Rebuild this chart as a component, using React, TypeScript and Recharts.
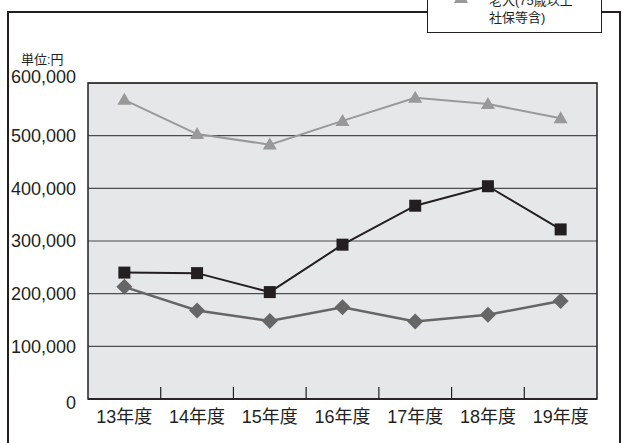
import React from 'react';
import {
  LineChart,
  Line,
  XAxis,
  YAxis,
  CartesianGrid,
  ReferenceArea,
} from 'recharts';

const years = ['13年度', '14年度', '15年度', '16年度', '17年度', '18年度', '19年度'];
const elderly = [568000, 503000, 483000, 528000, 572000, 560000, 533000];
const total = [240000, 239000, 203000, 293000, 367000, 404000, 322000];
const general = [213000, 168000, 148000, 174000, 147000, 160000, 186000];
const yTicks = [0, 100000, 200000, 300000, 400000, 500000, 600000];

const chartData = years.map((year, i) => ({
  year,
  elderly: elderly[i],
  total: total[i],
  general: general[i],
}));

const FONT = "'Liberation Sans', 'Noto Sans CJK JP', sans-serif";

const SquareDot = (props: any) => {
  const { cx, cy } = props;
  return <rect x={cx - 6} y={cy - 6} width={12} height={12} fill="#231f20" />;
};

const DiamondDot = (props: any) => {
  const { cx, cy } = props;
  const r = 8;
  return (
    <polygon
      points={`${cx},${cy - r} ${cx + r},${cy} ${cx},${cy + r} ${cx - r},${cy}`}
      fill="#666666"
    />
  );
};

const TriangleDot = (props: any) => {
  const { cx, cy } = props;
  return (
    <polygon
      points={`${cx},${cy - 7} ${cx + 7},${cy + 5} ${cx - 7},${cy + 5}`}
      fill="#999999"
    />
  );
};

const YTick = (props: any) => {
  const { x, y, payload } = props;
  // top and bottom labels sit slightly off their lines, as in the print
  let shift = 0;
  if (payload.value === 600000) shift = -6;
  if (payload.value === 0) shift = 4;
  return (
    <text
      x={x}
      y={y + shift}
      dy="0.35em"
      textAnchor="end"
      fill="#231f20"
      style={{ fontSize: 18, fontFamily: FONT }}
    >
      {payload.value.toLocaleString('en-US')}
    </text>
  );
};

// category label plus a short inward tick on the band's right edge
const XTick = (props: any) => {
  const { x, y, payload, index } = props;
  const edge = x + (payload.offset || 0);
  return (
    <g>
      <text
        x={x}
        y={y + 11}
        dy="0.71em"
        textAnchor="middle"
        fill="#231f20"
        style={{ fontSize: 18, fontFamily: FONT }}
      >
        {payload.value}
      </text>
      {index < years.length - 1 && (
        <line x1={edge} x2={edge} y1={y} y2={y - 12} stroke="#231f20" strokeWidth={1.2} />
      )}
    </g>
  );
};

export default function App() {
  return (
    <div
      style={{
        position: 'absolute',
        left: 0,
        top: 0,
        width: 622,
        height: 443,
        overflow: 'hidden',
        background: '#ffffff',
        fontFamily: FONT,
      }}
    >
      {/* outer frame */}
      <div style={{ position: 'absolute', left: 7, top: 11, width: 1.5, height: 440, background: '#231f20' }} />
      <div style={{ position: 'absolute', left: 619, top: 11, width: 1.5, height: 440, background: '#231f20' }} />
      <div style={{ position: 'absolute', left: 7, top: 11, width: 421, height: 1.5, background: '#231f20' }} />
      <div style={{ position: 'absolute', left: 602, top: 11, width: 18, height: 1.5, background: '#231f20' }} />

      {/* legend box, cut off at the top */}
      <div
        style={{
          position: 'absolute',
          left: 427,
          top: -2,
          width: 173,
          height: 33,
          border: '1.5px solid #231f20',
          background: '#ffffff',
        }}
      >
        <svg style={{ position: 'absolute', left: 18, top: 0 }} width={30} height={10}>
          <line x1={0} y1={-2} x2={30} y2={-2} stroke="#999999" strokeWidth={2} />
          <polygon points="15,-9 22,4 8,4" fill="#999999" />
        </svg>
        <div
          style={{
            position: 'absolute',
            left: 61,
            top: -7,
            fontSize: 13,
            lineHeight: '17px',
            color: '#231f20',
            whiteSpace: 'nowrap',
          }}
        >
          老人(75歳以上
          <br />
          社保等含)
        </div>
      </div>

      <div
        style={{
          position: 'absolute',
          left: 21,
          top: 49,
          fontSize: 13,
          color: '#231f20',
          whiteSpace: 'nowrap',
        }}
      >
        単位:円
      </div>

      <div style={{ position: 'absolute', left: 0, top: 0 }}>
        <LineChart
          width={622}
          height={443}
          data={chartData}
          margin={{ top: 83, right: 25, left: 0, bottom: 0 }}
        >
          <CartesianGrid
            vertical={false}
            horizontalValues={yTicks}
            stroke="#4d4d4d"
            strokeWidth={1.2}
            fill="#e6e7e9"
            fillOpacity={1}
          />
          <ReferenceArea
            y1={0}
            y2={600000}
            fill="none"
            stroke="#231f20"
            strokeWidth={1.5}
            ifOverflow="extendDomain"
          />
          <XAxis
            dataKey="year"
            scale="band"
            height={44}
            tickLine={false}
            tickSize={0}
            tickMargin={0}
            axisLine={{ stroke: '#231f20', strokeWidth: 1.5 }}
            tick={<XTick />}
            interval={0}
          />
          <YAxis
            width={88}
            domain={[0, 600000]}
            ticks={yTicks}
            tickLine={false}
            axisLine={false}
            tickMargin={6}
            tick={<YTick />}
            interval={0}
          />
          <Line
            dataKey="elderly"
            stroke="#999999"
            strokeWidth={2}
            dot={<TriangleDot />}
            isAnimationActive={false}
          />
          <Line
            dataKey="general"
            stroke="#666666"
            strokeWidth={2.5}
            dot={<DiamondDot />}
            isAnimationActive={false}
          />
          <Line
            dataKey="total"
            stroke="#231f20"
            strokeWidth={2}
            dot={<SquareDot />}
            isAnimationActive={false}
          />
        </LineChart>
      </div>
    </div>
  );
}
